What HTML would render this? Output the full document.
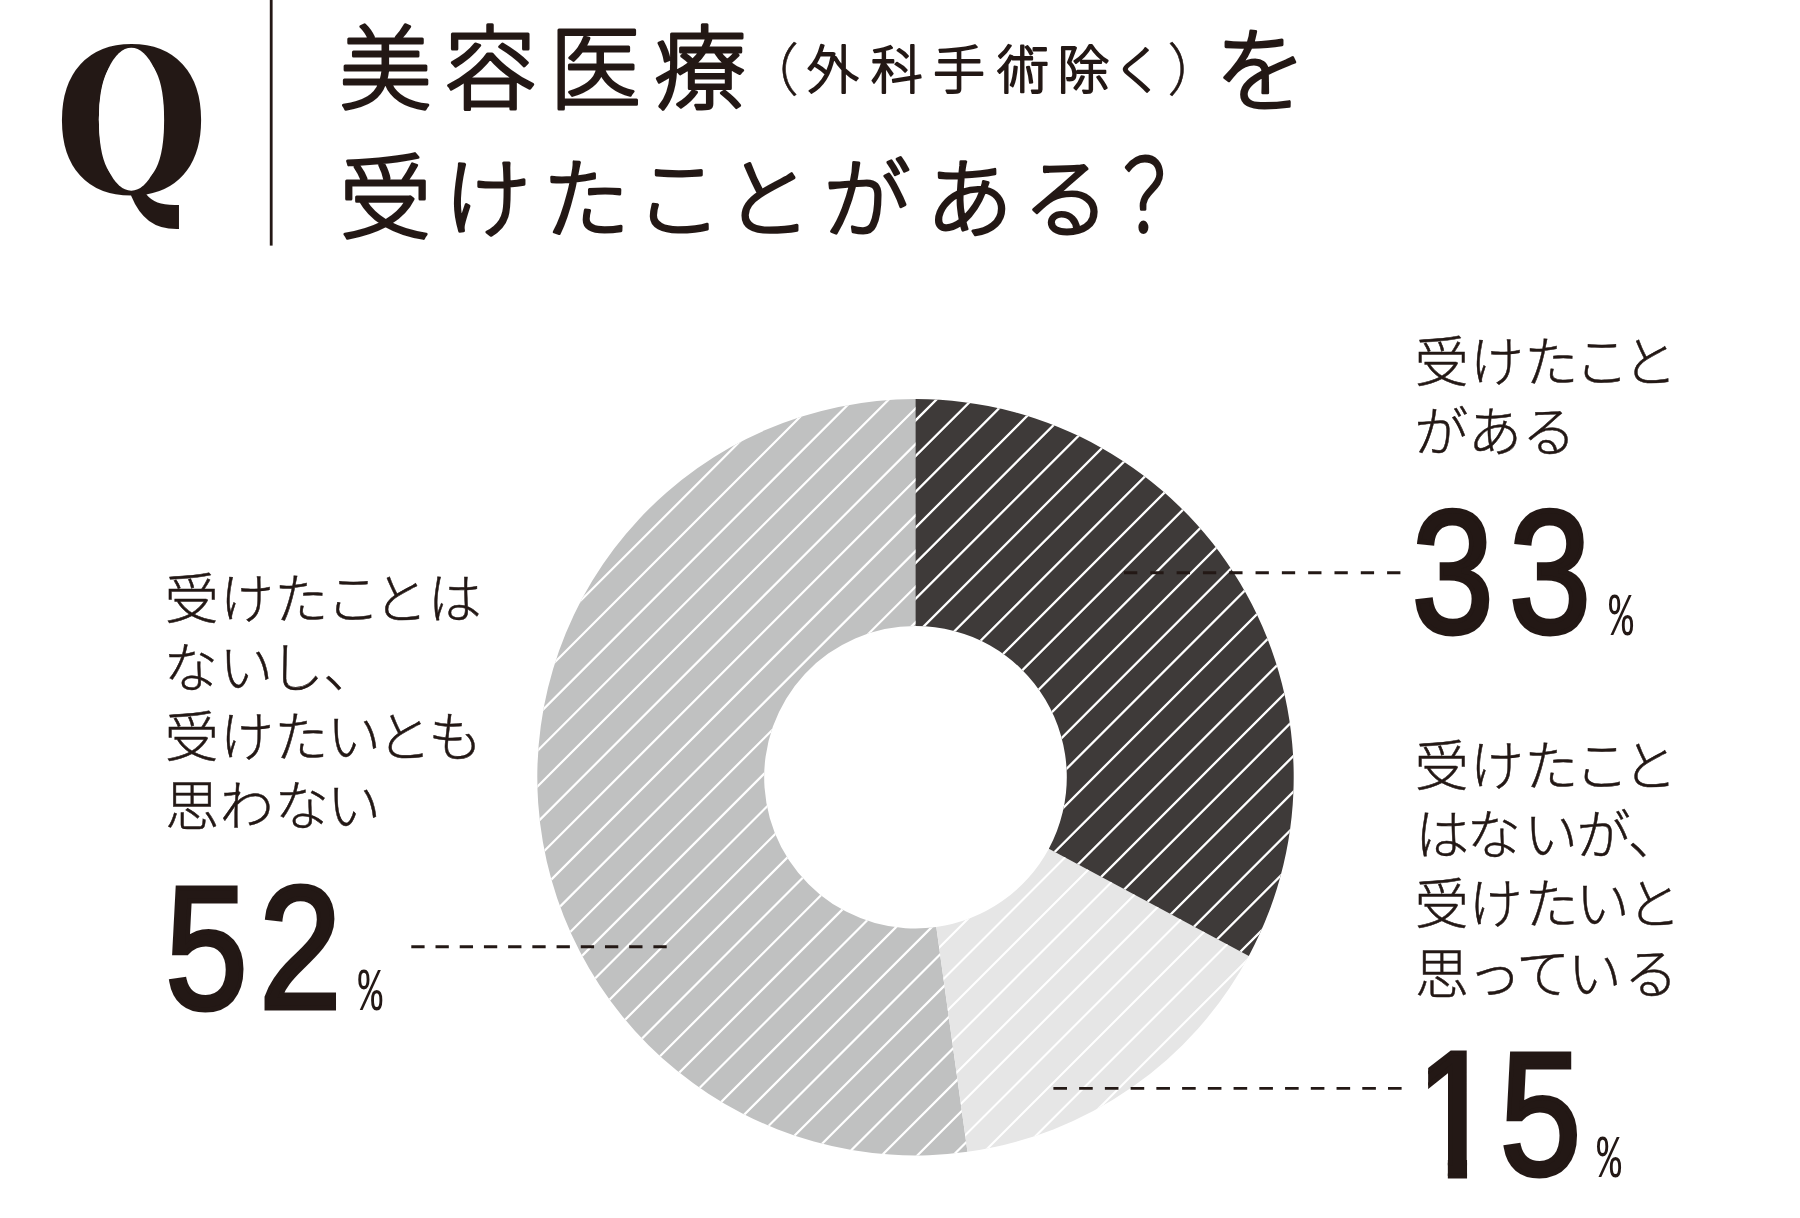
<!DOCTYPE html>
<html lang="ja"><head><meta charset="utf-8"><title>美容医療アンケート</title>
<style>
html,body{margin:0;padding:0;background:#fff;}
body{width:1800px;height:1218px;overflow:hidden;position:relative;}
svg{display:block;position:absolute;left:0;top:0;}
text{fill:#231815;}
.jp{font-family:"Liberation Sans","Noto Sans CJK JP",sans-serif;}
.ttl{font-family:"Liberation Sans","Noto Sans CJK JP",sans-serif;font-weight:300;stroke:#231815;stroke-width:3px;stroke-linejoin:round;}
.sm{font-family:"Liberation Sans","Noto Sans CJK JP",sans-serif;font-weight:300;stroke:#231815;stroke-width:2px;stroke-linejoin:round;}
.lbl{font-family:"Liberation Sans","Noto Sans CJK JP",sans-serif;font-weight:300;stroke:#231815;stroke-width:0.5px;}
.num{font-family:"Liberation Sans",sans-serif;font-weight:400;stroke:#231815;stroke-width:5px;}
.pct{font-family:"Liberation Mono",monospace;font-weight:400;}
.q{font-family:"DejaVu Serif","Liberation Serif",serif;font-weight:700;}
</style></head><body>
<svg width="1800" height="1218" viewBox="0 0 1800 1218">
<defs>
<clipPath id="c1"><path d="M915.50 399.00A378.2 378.2 0 0 1 1248.81 955.92L1048.84 848.70A151.3 151.3 0 0 0 915.50 625.90Z"/></clipPath>
<clipPath id="c2"><path d="M1248.81 955.92A378.2 378.2 0 0 1 967.48 1151.81L936.30 927.06A151.3 151.3 0 0 0 1048.84 848.70Z"/></clipPath>
<clipPath id="c3"><path d="M967.48 1151.81A378.2 378.2 0 1 1 915.50 399.00L915.50 625.90A151.3 151.3 0 1 0 936.30 927.06Z"/></clipPath>
</defs>

<path d="M967.48 1151.81A378.2 378.2 0 1 1 915.50 399.00L915.50 625.90A151.3 151.3 0 1 0 936.30 927.06Z" fill="#c0c1c1"/>
<path d="M1248.81 955.92A378.2 378.2 0 0 1 967.48 1151.81L936.30 927.06A151.3 151.3 0 0 0 1048.84 848.70Z" fill="#e6e6e6"/>
<path d="M915.50 399.00A378.2 378.2 0 0 1 1248.81 955.92L1048.84 848.70A151.3 151.3 0 0 0 915.50 625.90Z" fill="#3e3a39"/>
<g clip-path="url(#c3)"><path d="M-283.98 1180L516.02 380M-248.32 1180L551.68 380M-212.66 1180L587.34 380M-177.00 1180L623.00 380M-141.34 1180L658.66 380M-105.68 1180L694.32 380M-70.02 1180L729.98 380M-34.36 1180L765.64 380M1.30 1180L801.30 380M36.96 1180L836.96 380M72.62 1180L872.62 380M108.28 1180L908.28 380M143.94 1180L943.94 380M179.60 1180L979.60 380M215.26 1180L1015.26 380M250.92 1180L1050.92 380M286.58 1180L1086.58 380M322.24 1180L1122.24 380M357.90 1180L1157.90 380M393.56 1180L1193.56 380M429.22 1180L1229.22 380M464.88 1180L1264.88 380M500.54 1180L1300.54 380M536.20 1180L1336.20 380M571.86 1180L1371.86 380M607.52 1180L1407.52 380M643.18 1180L1443.18 380M678.84 1180L1478.84 380M714.50 1180L1514.50 380M750.16 1180L1550.16 380M785.82 1180L1585.82 380M821.48 1180L1621.48 380M857.14 1180L1657.14 380M892.80 1180L1692.80 380M928.46 1180L1728.46 380" stroke="#fff" stroke-width="2.2" fill="none"/></g>
<g clip-path="url(#c2)"><path d="M493.20 1180L1293.20 380M528.80 1180L1328.80 380M564.40 1180L1364.40 380M600.00 1180L1400.00 380M635.60 1180L1435.60 380M671.20 1180L1471.20 380M706.80 1180L1506.80 380M742.40 1180L1542.40 380M778.00 1180L1578.00 380M813.60 1180L1613.60 380M849.20 1180L1649.20 380M884.80 1180L1684.80 380M920.40 1180L1720.40 380M956.00 1180L1756.00 380M991.60 1180L1791.60 380M1027.20 1180L1827.20 380" stroke="#fff" stroke-width="2.1" fill="none"/></g>
<g clip-path="url(#c1)"><path d="M13.32 1180L813.32 380M48.99 1180L848.99 380M84.66 1180L884.66 380M120.33 1180L920.33 380M156.00 1180L956.00 380M191.67 1180L991.67 380M227.34 1180L1027.34 380M263.01 1180L1063.01 380M298.68 1180L1098.68 380M334.35 1180L1134.35 380M370.02 1180L1170.02 380M405.69 1180L1205.69 380M441.36 1180L1241.36 380M477.03 1180L1277.03 380M512.70 1180L1312.70 380M548.37 1180L1348.37 380M584.04 1180L1384.04 380M619.71 1180L1419.71 380M655.38 1180L1455.38 380M691.05 1180L1491.05 380M726.72 1180L1526.72 380M762.39 1180L1562.39 380M798.06 1180L1598.06 380M833.73 1180L1633.73 380M869.40 1180L1669.40 380M905.07 1180L1705.07 380M940.74 1180L1740.74 380M976.41 1180L1776.41 380M1012.08 1180L1812.08 380M1047.75 1180L1847.75 380" stroke="#fff" stroke-width="2.3" fill="none"/></g>
<g stroke="#231815" stroke-width="2.9" fill="none">
<path d="M1124 572.8H1400.4" stroke-dasharray="13.3 13.01"/>
<path d="M1053.4 1088.4H1401.6" stroke-dasharray="13.6 12.14"/>
<path d="M411.3 946.7H666.7" stroke-dasharray="13.3 10.91"/>
</g>
<rect x="269.8" y="0" width="2.8" height="245.6" fill="#231815"/>
<text class="q" x="0" y="0" font-size="200" transform="translate(54.6,193) scale(0.885,1.0)">Q</text>
<ellipse cx="131.3" cy="119.2" rx="32.5" ry="71.5" fill="#fff"/>
<text class="ttl" text-anchor="middle" y="102.2"><tspan x="385.6" font-size="92">美</tspan><tspan x="490.3" font-size="92">容</tspan><tspan x="595.5" font-size="92">医</tspan><tspan x="700.0" font-size="92">療</tspan></text>
<text class="lbl" text-anchor="middle" y="89.9"><tspan x="770.4" font-size="57">（</tspan></text>
<text class="sm" text-anchor="middle" y="88.9"><tspan x="832.8" font-size="52">外</tspan><tspan x="896.7" font-size="52">科</tspan><tspan x="958.9" font-size="52">手</tspan><tspan x="1023.0" font-size="52">術</tspan><tspan x="1083.4" font-size="52">除</tspan><tspan x="1138.2" font-size="52">く</tspan></text>
<text class="lbl" text-anchor="middle" y="89.9"><tspan x="1195.7" font-size="57">）</tspan></text>
<text class="ttl" text-anchor="middle" y="103.6"><tspan x="1260.8" font-size="92">を</tspan></text>
<text class="ttl" text-anchor="middle" y="230.8"><tspan x="385.5" font-size="92">受</tspan><tspan x="487.2" font-size="87">け</tspan><tspan x="585.9" font-size="87">た</tspan><tspan x="678.4" font-size="87">こ</tspan><tspan x="767.8" font-size="87">と</tspan><tspan x="867.1" font-size="87">が</tspan><tspan x="969.5" font-size="87">あ</tspan><tspan x="1066.2" font-size="87">る</tspan></text>
<text class="ttl" text-anchor="middle" font-size="99" transform="translate(1143.9,232.2) scale(0.776,1)" x="0.5" y="0">？</text>
<text class="lbl" text-anchor="middle" y="382.2"><tspan x="1441.7" font-size="54">受</tspan><tspan x="1496.8" font-size="54">け</tspan><tspan x="1551.2" font-size="54">た</tspan><tspan x="1601.7" font-size="54">こ</tspan><tspan x="1649.9" font-size="54">と</tspan></text>
<text class="lbl" text-anchor="middle" y="451.5"><tspan x="1441.2" font-size="54">が</tspan><tspan x="1495.0" font-size="54">あ</tspan><tspan x="1549.1" font-size="54">る</tspan></text>
<text class="num" text-anchor="middle" font-size="172" transform="translate(1452.4,632.4) scale(0.853,1.012)" y="0"><tspan x="0.5">3</tspan><tspan x="114.4">3</tspan></text>
<text class="pct" text-anchor="middle" font-size="55" transform="translate(1621.0,634.7) scale(0.729,1.095)" x="-0.0" y="0">%</text>
<text class="lbl" text-anchor="middle" y="786.0"><tspan x="1441.7" font-size="54">受</tspan><tspan x="1496.8" font-size="54">け</tspan><tspan x="1551.2" font-size="54">た</tspan><tspan x="1601.7" font-size="54">こ</tspan><tspan x="1649.9" font-size="54">と</tspan></text>
<text class="lbl" text-anchor="middle" y="855.2"><tspan x="1442.3" font-size="54">は</tspan><tspan x="1493.7" font-size="54">な</tspan><tspan x="1551.0" font-size="54">い</tspan><tspan x="1603.6" font-size="54">が</tspan><tspan x="1654.8" font-size="54">、</tspan></text>
<text class="lbl" text-anchor="middle" y="924.4"><tspan x="1441.7" font-size="54">受</tspan><tspan x="1495.5" font-size="54">け</tspan><tspan x="1551.5" font-size="54">た</tspan><tspan x="1602.7" font-size="54">い</tspan><tspan x="1653.9" font-size="54">と</tspan></text>
<text class="lbl" text-anchor="middle" y="993.6"><tspan x="1442.0" font-size="54">思</tspan><tspan x="1494.6" font-size="54">っ</tspan><tspan x="1543.0" font-size="54">て</tspan><tspan x="1594.8" font-size="54">い</tspan><tspan x="1650.9" font-size="54">る</tspan></text>
<g transform="translate(1454.5,1175.5) scale(0.926,1.039)"><clipPath id="c1one"><path d="M-28.45 -130H13.6V8H-7.2V-22H-28.45Z"/></clipPath><text class="num" clip-path="url(#c1one)" text-anchor="middle" font-size="172" x="0" y="0">1</text></g>
<text class="num" text-anchor="middle" font-size="172" transform="translate(1540.1,1174.3) scale(0.847,1.010)" x="0.5" y="0">5</text>
<text class="pct" text-anchor="middle" font-size="55" transform="translate(1609.1,1176.8) scale(0.729,1.095)" x="-0.0" y="0">%</text>
<text class="lbl" text-anchor="middle" y="619.2"><tspan x="191.8" font-size="54">受</tspan><tspan x="246.7" font-size="54">け</tspan><tspan x="301.2" font-size="54">た</tspan><tspan x="353.2" font-size="54">こ</tspan><tspan x="400.8" font-size="54">と</tspan><tspan x="454.7" font-size="54">は</tspan></text>
<text class="lbl" text-anchor="middle" y="688.0"><tspan x="190.8" font-size="54">な</tspan><tspan x="246.2" font-size="54">い</tspan><tspan x="296.7" font-size="54">し</tspan><tspan x="350.3" font-size="54">、</tspan></text>
<text class="lbl" text-anchor="middle" y="756.8"><tspan x="191.8" font-size="54">受</tspan><tspan x="246.7" font-size="54">け</tspan><tspan x="301.2" font-size="54">た</tspan><tspan x="354.1" font-size="54">い</tspan><tspan x="404.2" font-size="54">と</tspan><tspan x="455.3" font-size="54">も</tspan></text>
<text class="lbl" text-anchor="middle" y="825.6"><tspan x="192.3" font-size="54">思</tspan><tspan x="246.7" font-size="54">わ</tspan><tspan x="301.7" font-size="54">な</tspan><tspan x="354.1" font-size="54">い</tspan></text>
<text class="num" text-anchor="middle" font-size="172" transform="translate(206.0,1008.3) scale(0.858,1.014)" y="0"><tspan x="0.5">5</tspan><tspan x="109.8">2</tspan></text>
<text class="pct" text-anchor="middle" font-size="55" transform="translate(370.3,1010.1) scale(0.729,1.095)" x="-0.0" y="0">%</text>
</svg></body></html>
